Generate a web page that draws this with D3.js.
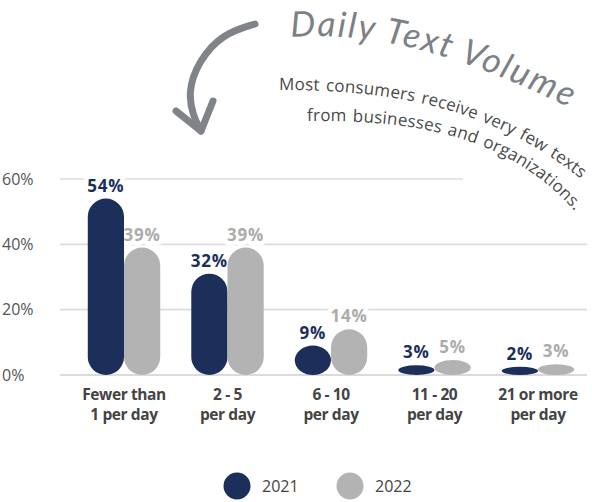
<!DOCTYPE html>
<html>
<head>
<meta charset="utf-8">
<script src="https://cdn.jsdelivr.net/npm/d3@7"></script>
<style>
  html, body { margin: 0; padding: 0; background: #fff; }
  svg { display: block; }
</style>
</head>
<body>
<svg id="chart" width="592" height="502"></svg>
<script>
// ---- Data ----
const categories = [["Fewer than", "1 per day"], ["2 - 5", "per day"], ["6 - 10", "per day"], ["11 - 20", "per day"], ["21 or more", "per day"]];
const seriesNames = ["2021", "2022"];
const values2021 = [54, 31, 9, 3, 2.5];
const values2022 = [39, 39, 14, 4.6, 3.3];
const labels2021 = ["54%", "32%", "9%", "3%", "2%"];
const labels2022 = ["39%", "39%", "14%", "5%", "3%"];
const yTicks = [0, 20, 40, 60];
const titleText = "Daily Text Volume";
const subtitleLines = ["Most consumers receive very few texts", "from businesses and organizations."];

const colors = { "2021": "#1c2f5a", "2022": "#b3b3b3" };
const labelColors = { "2021": "#1c2f5a", "2022": "#acacac" };

const svg = d3.select("#chart");

// ---- Scales ----
const y = d3.scaleLinear().domain([0, 60]).range([375, 179]);
const x = d3.scaleBand().domain(d3.range(categories.length)).range([72.25, 589.75]).paddingInner(0.3).paddingOuter(0.15);
const xs = d3.scaleBand().domain(seriesNames).range([0, x.bandwidth()]).padding(0);

// ---- Gridlines ----
const grid = svg.append("g");
grid.selectAll("line").data(yTicks).join("line")
  .attr("x1", 60)
  .attr("x2", d => d === 60 ? 463 : 587)
  .attr("y1", d => y(d)).attr("y2", d => y(d))
  .attr("stroke", d => d === 0 ? "#cfcfcf" : "#dcdcdc")
  .attr("stroke-width", 1.6);

// y tick labels
svg.append("g").selectAll("text").data(yTicks).join("text")
  .attr("x", 2).attr("y", d => y(d))
  .attr("dy", "0.36em")
  .attr("font-family", "Open Sans")
  .attr("font-size", 16)
  .attr("fill", "#555")
  .text(d => d + "%");

// ---- Data rows ----
const rows = [];
categories.forEach((c, i) => {
  rows.push({ i, s: "2021", v: values2021[i], label: labels2021[i] });
  rows.push({ i, s: "2022", v: values2022[i], label: labels2022[i] });
});

// value labels (with white halo over gridlines)
svg.append("g").selectAll("text").data(rows).join("text")
  .attr("x", d => x(d.i) + xs(d.s) + xs.bandwidth() / 2)
  .attr("y", d => y(d.v) - 7)
  .attr("text-anchor", "middle")
  .attr("font-family", "Open Sans")
  .attr("font-weight", 700)
  .attr("font-size", 17)
  .attr("letter-spacing", 0.8)
  .attr("fill", d => labelColors[d.s])
  .attr("stroke", "#fff")
  .attr("stroke-width", 9)
  .attr("stroke-linejoin", "round")
  .attr("paint-order", "stroke")
  .text(d => d.label);

// bars (capsules)
svg.append("g").selectAll("rect").data(rows).join("rect")
  .attr("x", d => x(d.i) + xs(d.s))
  .attr("y", d => y(d.v))
  .attr("width", xs.bandwidth())
  .attr("height", d => y(0) - y(d.v))
  .attr("rx", xs.bandwidth() / 2)
  .attr("ry", d => Math.min(xs.bandwidth() / 2, (y(0) - y(d.v)) / 2))
  .attr("fill", d => colors[d.s]);

// category labels
const cat = svg.append("g").selectAll("text").data(categories).join("text")
  .attr("x", (d, i) => x(i) + x.bandwidth() / 2)
  .attr("y", 400)
  .attr("text-anchor", "middle")
  .attr("font-family", "Open Sans")
  .attr("font-weight", 700)
  .attr("font-size", 15.5)
  .attr("letter-spacing", -0.4)
  .attr("fill", "#444");
cat.selectAll("tspan").data(d => d).join("tspan")
  .attr("x", function() { return d3.select(this.parentNode).attr("x"); })
  .attr("dy", (d, j) => j === 0 ? 0 : 20)
  .text(d => d);

// ---- Legend ----
const legend = svg.append("g").selectAll("g").data(seriesNames).join("g")
  .attr("transform", (d, i) => `translate(${237 + i * 113},486)`);
legend.append("circle").attr("r", 13.5).attr("fill", d => colors[d]);
legend.append("text")
  .attr("x", 25).attr("dy", "0.36em")
  .attr("font-family", "Open Sans")
  .attr("font-size", 16)
  .attr("fill", "#444")
  .text(d => d);

// ---- Title & subtitle on curves ----
const defs = svg.append("defs");
defs.append("path").attr("id", "titlePath").attr("d", "M291,37 C360,33 440,42 590,118");
defs.append("path").attr("id", "sub1").attr("d", "M279,90 C390,90 500,105 600,195");
defs.append("path").attr("id", "sub2").attr("d", "M307,121 C420,120 530,135 600,245");

svg.append("text")
  .attr("font-family", "Lato")
  .attr("font-style", "italic")
  .attr("font-weight", 400)
  .attr("font-size", 35)
  .attr("letter-spacing", 2)
  .attr("fill", "#7d8185")
  .append("textPath").attr("href", "#titlePath")
  .text(titleText);

svg.append("g").selectAll("text").data(subtitleLines).join("text")
  .attr("font-family", "Open Sans")
  .attr("font-size", 17)
  .attr("letter-spacing", 0.2)
  .attr("word-spacing", 1.5)
  .attr("fill", "#4a4a4a")
  .append("textPath").attr("href", (d, i) => "#sub" + (i + 1))
  .text(d => d);

// ---- Arrow ----
const arrow = svg.append("g")
  .attr("fill", "none")
  .attr("stroke", "#808488")
  .attr("stroke-linecap", "round")
  .attr("stroke-linejoin", "round");
arrow.append("path")
  .attr("d", d3.line().curve(d3.curveBasis)([[255, 24], [222, 34], [198, 62], [188, 92], [193, 116], [201, 131]]))
  .attr("stroke-width", 7);
arrow.append("path")
  .attr("d", d3.line()([[176, 111], [201, 131], [213, 101]]))
  .attr("stroke-width", 7);
</script>
</body>
</html>
